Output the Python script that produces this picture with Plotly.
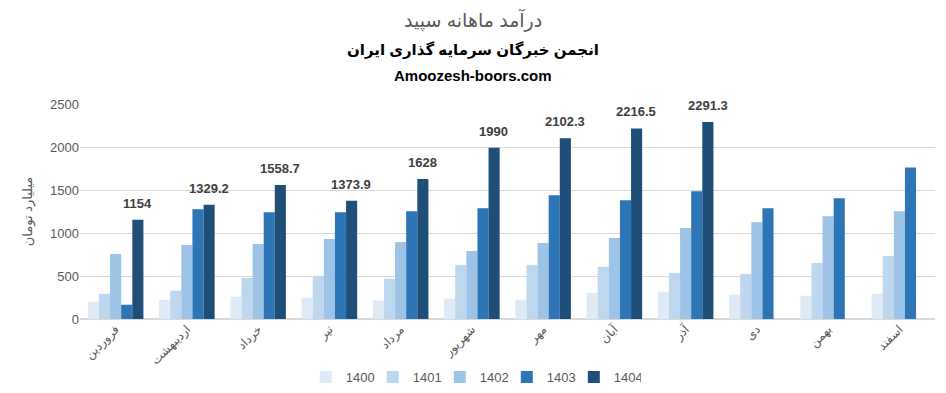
import plotly.graph_objects as go

months = ["فروردین", "اردیبهشت", "خرداد", "تیر", "مرداد", "شهریور",
          "مهر", "آبان", "آذر", "دی", "بهمن", "اسفند"]
y1400 = [201, 224, 259, 247, 216, 235, 224, 305, 316, 282, 270, 293]
y1401 = [293, 328, 478, 501, 467, 629, 629, 606, 536, 525, 652, 733]
y1402 = [756, 860, 872, 930, 895, 791, 884, 941, 1057, 1126, 1196, 1254]
y1403 = [166, 1277, 1242, 1242, 1254, 1288, 1439, 1381, 1485, 1288, 1404, 1763]
y1404 = [1154, 1329.2, 1558.7, 1373.9, 1628, 1990, 2102.3, 2216.5, 2291.3, None, None, None]
series_names = ["1400", "1401", "1402", "1403", "1404"]
colors = ["#DEEBF7", "#BDD7EE", "#9DC3E6", "#2E75B6", "#1F4E79"]
yticks = [0, 500, 1000, 1500, 2000, 2500]

fig = go.Figure()
for name, vals, col in zip(series_names, [y1400, y1401, y1402, y1403, y1404], colors):
    fig.add_trace(go.Bar(x=months, y=vals, name=name, marker_color=col,
                         marker_line_width=0, hoverinfo="skip"))

# data labels for the 1404 series (placed over the 5th bar of each group)
label_annots = [
    dict(x=m, y=v, xref="x", yref="y", text=f"<b>{v:g}</b>", showarrow=False,
         yanchor="bottom", xshift=22, yshift=7,
         font=dict(size=13, color="#404040", family="Liberation Sans, DejaVu Sans"))
    for m, v in zip(months, y1404) if v is not None
]

fig.update_layout(
    width=946, height=393,
    margin=dict(l=80, r=11, t=104, b=74, autoexpand=False),
    paper_bgcolor="white", plot_bgcolor="white",
    barmode="group", bargap=0.22, bargroupgap=0,
    font=dict(family="Liberation Sans, DejaVu Sans", color="#595959", size=12),
    showlegend=True,
    legend=dict(orientation="h", x=0.46, xanchor="center", y=-0.2, yanchor="top",
                font=dict(size=13, color="#595959"), entrywidth=22, entrywidthmode="pixels",
                itemwidth=30, tracegroupgap=0),
    xaxis=dict(tickangle=-45, showgrid=False, showline=False, ticks="", automargin=False,
               tickfont=dict(size=12, color="#595959")),
    yaxis=dict(range=[0, 2500], tickvals=yticks, showgrid=True, gridcolor="#D9D9D9",
               gridwidth=1, zeroline=True, zerolinecolor="#D9D9D9", showline=False,
               ticks="", automargin=False, tickfont=dict(size=13, color="#595959"),
               title=dict(text="میلیارد تومان", font=dict(size=13, color="#595959"), standoff=14)),
    annotations=[
        dict(text="درآمد ماهانه سپید", xref="paper", yref="paper", x=0.46, y=1.0,
             yanchor="middle", yshift=84, showarrow=False, font=dict(size=19, color="#595959")),
        dict(text="<b>انجمن خبرگان سرمایه گذاری ایران</b>", xref="paper", yref="paper",
             x=0.46, y=1.0, yanchor="middle", yshift=54, showarrow=False,
             font=dict(size=15, color="#000000")),
        dict(text="<b>Amoozesh-boors.com</b>", xref="paper", yref="paper",
             x=0.46, y=1.0, yanchor="middle", yshift=29, showarrow=False,
             font=dict(size=15, color="#000000")),
    ] + label_annots,
)

fig.write_html("out.html")
